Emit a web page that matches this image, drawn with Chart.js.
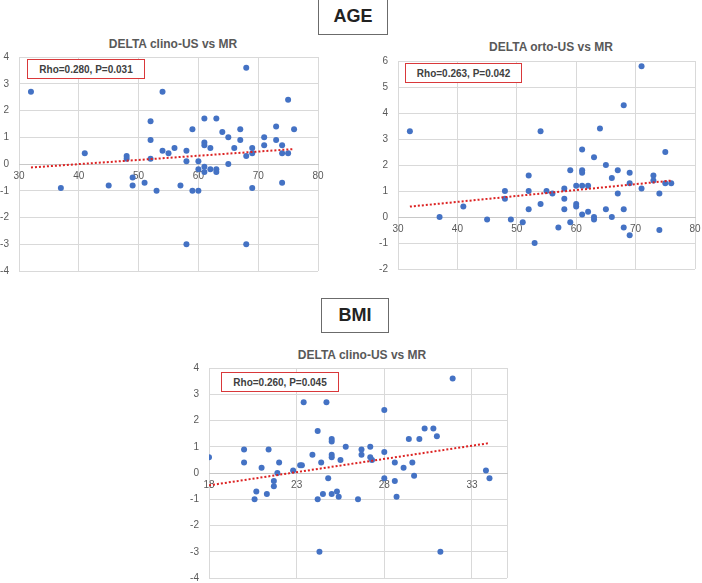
<!DOCTYPE html>
<html>
<head>
<meta charset="utf-8">
<script src="https://cdn.jsdelivr.net/npm/chart.js@4.4.0/dist/chart.umd.min.js"></script>
<style>
  body { margin: 0; background: #fff; }
  #page { position: relative; width: 702px; height: 583px; overflow: hidden; font-family: "Liberation Sans", Arial, sans-serif; }
  .section { position: absolute; border: 1.5px solid #6b6b6b; box-sizing: border-box; font-weight: bold; font-size: 18px; color: #222; display: flex; align-items: center; justify-content: center; background: #fff; }
  .title { position: absolute; font-weight: bold; font-size: 12px; color: #595959; white-space: nowrap; transform: translateX(-50%); }
  .rho { position: absolute; border: 1.5px solid #d9383a; box-sizing: border-box; font-weight: bold; font-size: 10px; color: #404040; display: flex; align-items: center; justify-content: center; background: #fff; z-index: 2; }
  canvas { position: absolute; }
</style>
</head>
<body>
<div id="page">
  <div class="section" style="left:318px; top:-2px; width:70px; height:37px;">AGE</div>
  <div class="section" style="left:321px; top:298px; width:68px; height:35px;">BMI</div>

  <div class="title" style="left:173px; top:37px;">DELTA clino-US vs MR</div>
  <div class="title" style="left:551px; top:40px;">DELTA orto-US vs MR</div>
  <div class="title" style="left:362px; top:348px;">DELTA clino-US vs MR</div>

  <div class="rho" style="left:27px; top:59px; width:118px; height:20px;">Rho=0.280, P=0.031</div>
  <div class="rho" style="left:405px; top:63px; width:117px; height:20px;">Rho=0.263, P=0.042</div>
  <div class="rho" style="left:221px; top:372px; width:118px; height:20px;">Rho=0.260, P=0.045</div>

  <canvas id="ageClinoChart" width="330" height="240" style="left:0px; top:45px;"></canvas>
  <canvas id="ageOrtoChart" width="342" height="234" style="left:360px; top:49px;"></canvas>
  <canvas id="bmiClinoChart" width="330" height="225" style="left:180px; top:358px;"></canvas>
</div>

<script>
// ----------------- Data -----------------
// AGE vs DELTA clino-US vs MR
const ageClinoX = [32, 37, 41, 45, 48, 48, 49, 49, 51, 52, 52, 52, 53, 54, 54, 55, 56, 57, 58, 58, 58, 59, 59, 60, 60, 60, 61, 61, 61, 61, 61, 62, 62, 63, 63, 63, 64, 65, 65, 66, 67, 67, 68, 68, 68, 69, 69, 69, 71, 71, 73, 73, 74, 74, 74, 75, 75, 76];
const ageClinoY = [2.7, -0.9, 0.4, -0.8, 0.3, 0.2, -0.5, -0.8, -0.7, 1.6, 0.9, 0.2, -1.0, 2.7, 0.5, 0.4, 0.6, -0.8, 0.5, 0.1, -3.0, 1.3, -1.0, 0.1, -0.2, -1.0, 1.7, 0.8, 0.7, -0.1, -0.3, 0.6, -0.2, 1.7, -0.2, -0.3, 1.2, 1.0, 0.0, 0.6, 1.3, 0.9, 3.6, 0.3, -3.0, 0.6, 0.4, -0.9, 1.0, 0.7, 1.4, 0.9, 0.7, 0.4, -0.7, 2.4, 0.4, 1.3];
const ageClinoTrendX = [32, 76];
const ageClinoTrendY = [-0.13, 0.56];

// AGE vs DELTA orto-US vs MR
const ageOrtoX = [32, 37, 41, 45, 48, 48, 49, 51, 52, 52, 52, 53, 54, 54, 55, 56, 57, 58, 58, 58, 59, 59, 60, 60, 60, 61, 61, 61, 61, 61, 62, 62, 63, 63, 63, 64, 65, 65, 66, 66, 67, 67, 68, 68, 68, 69, 69, 69, 71, 71, 73, 73, 74, 74, 75, 75, 76];
const ageOrtoY = [3.3, 0, 0.4, -0.1, 1.0, 0.7, -0.1, -0.2, 1.6, 1.0, 0.3, -1.0, 3.3, 0.5, 1.0, 0.9, -0.4, 1.1, 0.7, 0.3, 1.8, -0.2, 1.2, 0.5, 0.4, 2.6, 1.8, 1.7, 1.2, 0.1, 1.2, 0.2, 2.3, 0, -0.1, 3.4, 2.0, 0.3, 1.5, 0, 1.8, 0.9, 4.3, 0.3, -0.4, 1.7, 1.3, -0.7, 5.8, 1.1, 1.6, 1.4, 0.9, -0.5, 2.5, 1.3, 1.3];
const ageOrtoTrendX = [32, 76];
const ageOrtoTrendY = [0.4, 1.4];

// BMI vs DELTA clino-US vs MR
const bmiClinoX = [18.0, 20.0, 20.0, 20.6, 20.7, 21.0, 21.3, 21.4, 21.7, 21.7, 21.9, 22.0, 22.8, 23.2, 23.3, 23.4, 23.9, 24.2, 24.2, 24.3, 24.4, 24.5, 24.7, 24.8, 25.0, 25.0, 25.0, 25.0, 25.0, 25.3, 25.4, 25.5, 25.8, 26.5, 26.7, 26.7, 27.2, 27.2, 27.3, 28.0, 28.0, 28.0, 28.6, 28.6, 28.7, 29.1, 29.4, 29.6, 29.7, 30.0, 30.3, 30.8, 31.0, 31.2, 31.9, 33.8, 34.0];
const bmiClinoY = [0.6, 0.9, 0.4, -1.0, -0.7, 0.2, -0.8, 0.9, -0.3, -0.5, 0, 0.4, 0.1, 0.3, 0.3, 2.7, 0.7, -1.0, 1.6, -3.0, 0.4, -0.8, 2.7, -0.2, 1.3, 1.2, 0.7, 0.6, -0.8, -0.7, -0.9, 0.5, 1.0, -1.0, 0.7, 0.9, 1.0, 0.6, 0.5, 2.4, 0.8, -0.2, 0.4, -0.3, -0.9, 0.2, 1.3, 0.4, -0.1, 1.3, 1.7, 1.7, 1.4, -3.0, 3.6, 0.1, -0.2];
const bmiClinoTrendX = [18, 34];
const bmiClinoTrendY = [-0.47, 1.14];

// tick labels
const ageTicks = [30, 40, 50, 60, 70, 80];
const bmiTicks = [18, 23, 28, 33];

// ----------------- Charts -----------------
const gridColor = "#d9d9d9";
const tickFont = { family: "'Liberation Sans', Arial, sans-serif", size: 10 };

function toPoints(xs, ys) {
  return xs.map((x, i) => ({ x: x, y: ys[i] }));
}

function makeScatter(id, cfg) {
  const ctx = document.getElementById(id).getContext("2d");
  new Chart(ctx, {
    type: "scatter",
    data: {
      datasets: [
        {
          data: toPoints(cfg.trendX, cfg.trendY),
          showLine: true,
          borderColor: "#dc2222",
          borderWidth: 2,
          borderDash: [2, 2],
          pointRadius: 0,
          pointHoverRadius: 0,
          order: 0
        },
        {
          data: toPoints(cfg.xs, cfg.ys),
          backgroundColor: "#4472c4",
          borderWidth: 0,
          pointRadius: 3,
          order: 1
        }
      ]
    },
    options: {
      responsive: false,
      animation: false,
      layout: { padding: cfg.padding, autoPadding: false },
      plugins: { legend: { display: false }, tooltip: { enabled: false } },
      scales: {
        x: {
          type: "linear",
          position: { y: 0 },
          min: cfg.xMin,
          max: cfg.xMax,
          afterBuildTicks: s => {
            // gridline at the right edge too, label only on the listed ticks
            const vals = cfg.xTicks.includes(cfg.xMax) ? cfg.xTicks : cfg.xTicks.concat([cfg.xMax]);
            s.ticks = vals.map(v => ({ value: v }));
          },
          afterFit: s => { s.paddingLeft = 0; s.paddingRight = 0; },
          grid: { color: gridColor, drawTicks: false },
          border: { display: true, color: "#c8c8c8" },
          ticks: {
            font: tickFont,
            color: "#595959",
            padding: 6,
            maxRotation: 0,
            callback: v => (cfg.xTicks.includes(v) ? v : "")
          }
        },
        y: {
          min: cfg.yMin,
          max: cfg.yMax,
          afterFit: s => {
            s.width = cfg.axisWidth;
            s.paddingTop = 0;
            s.paddingBottom = 0;
          },
          grid: { color: gridColor, drawTicks: false },
          border: { display: false },
          ticks: { stepSize: 1, font: tickFont, color: "#595959", padding: 10 }
        }
      }
    }
  });
}

window.addEventListener("DOMContentLoaded", () => {
  makeScatter("ageClinoChart", {
    xs: ageClinoX, ys: ageClinoY, trendX: ageClinoTrendX, trendY: ageClinoTrendY,
    xMin: 30, xMax: 80, xTicks: ageTicks, yMin: -4, yMax: 4,
    axisWidth: 19, padding: { left: 0, right: 12, top: 12, bottom: 14 }
  });
  makeScatter("ageOrtoChart", {
    xs: ageOrtoX, ys: ageOrtoY, trendX: ageOrtoTrendX, trendY: ageOrtoTrendY,
    xMin: 30, xMax: 80, xTicks: ageTicks, yMin: -2, yMax: 6,
    axisWidth: 38, padding: { left: 0, right: 7, top: 12, bottom: 14 }
  });
  makeScatter("bmiClinoChart", {
    xs: bmiClinoX, ys: bmiClinoY, trendX: bmiClinoTrendX, trendY: bmiClinoTrendY,
    xMin: 18, xMax: 35, xTicks: bmiTicks, yMin: -4, yMax: 4,
    axisWidth: 29, padding: { left: 0, right: 3, top: 10, bottom: 5 }
  });
});
</script>
</body>
</html>
